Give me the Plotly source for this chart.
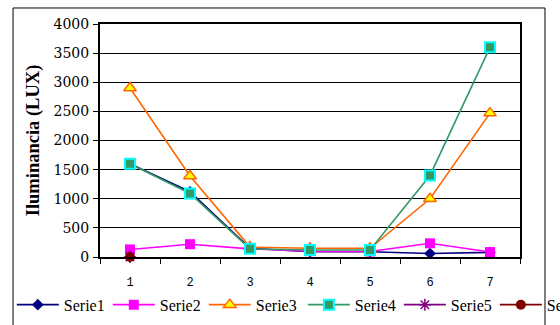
import plotly.graph_objects as go

# Measurement points along the x axis
points = [1, 2, 3, 4, 5, 6, 7]
point_boundaries = [0.5, 1.5, 2.5, 3.5, 4.5, 5.5, 6.5, 7.5]

# Illuminance readings (lux) per series
serie1 = [1600, 1120, 150, 90, 90, 60, 80]
serie2 = [130, 220, 140, 100, 95, 235, 85]
serie3 = [2900, 1390, 170, 150, 150, 1000, 2470]
serie4 = [1600, 1090, 140, 120, 120, 1400, 3600]
serie5 = [0, None, None, None, None, None, None]
serie6 = [0, None, None, None, None, None, None]

y_ticks = [0, 500, 1000, 1500, 2000, 2500, 3000, 3500, 4000]

SERIF = "Liberation Serif"
MONO = "Liberation Mono"

fig = go.Figure()

styles = [
    ("Serie1", serie1, "#000080", dict(symbol="diamond", size=9, color="#000080"), "legend"),
    ("Serie2", serie2, "#FF00FF", dict(symbol="square", size=10, color="#FF00FF"), "legend"),
    ("Serie3", serie3, "#FF6600", dict(symbol="triangle-up", size=11, color="#FFFF00",
                                       line=dict(color="#FF6600", width=1.5)), "legend"),
    ("Serie4", serie4, "#339966", dict(symbol="square", size=10, color="#339966",
                                       line=dict(color="#00FFFF", width=2)), "legend2"),
    ("Serie5", serie5, "#800080", dict(symbol="asterisk-open", size=10,
                                       line=dict(color="#800080", width=1.5)), "legend2"),
    ("Serie6", serie6, "#800000", dict(symbol="circle", size=10, color="#800000"), "legend2"),
]

for name, vals, color, marker, leg in styles:
    fig.add_trace(go.Scatter(
        x=points, y=vals, name=name, mode="lines+markers",
        line=dict(color=color, width=1.6), marker=marker, legend=leg,
        cliponaxis=False,
    ))

# Outer chart frame
fig.add_shape(type="rect", xref="paper", yref="paper",
              x0=-0.207, x1=1.0595, y0=-0.5, y1=1.0687,
              line=dict(color="black", width=1), fillcolor="rgba(0,0,0,0)",
              layer="below")

legend_common = dict(
    orientation="h", xanchor="left", y=-0.205, yanchor="middle",
    font=dict(family=SERIF, size=16, color="black"),
    entrywidth=39, entrywidthmode="pixels", itemwidth=42,
    bgcolor="rgba(0,0,0,0)",
)

fig.update_layout(
    width=560, height=325,
    margin=dict(l=100, r=40, t=24, b=68, autoexpand=False),
    paper_bgcolor="white", plot_bgcolor="white",
    font=dict(family=SERIF, color="black"),
    showlegend=True,
    legend=dict(x=-0.21, **legend_common),
    legend2=dict(x=0.483, **legend_common),
    xaxis=dict(
        range=[0.5, 7.5], tickvals=points,
        showline=True, linecolor="black", linewidth=2, mirror=True,
        # labels sit well below the axis; the visible tick marks fall between points
        ticks="outside", ticklen=13, tickcolor="rgba(0,0,0,0)",
        tickfont=dict(family=MONO, size=12, color="black"),
        minor=dict(tickvals=point_boundaries, ticks="outside", ticklen=5,
                   tickcolor="black", showgrid=False),
        showgrid=False, zeroline=False,
    ),
    yaxis=dict(
        range=[0, 4000], tickvals=y_ticks,
        showline=True, linecolor="black", linewidth=2, mirror=True,
        ticks="outside", ticklen=5, tickcolor="black",
        showgrid=True, gridcolor="black", gridwidth=1,
        tickfont=dict(family="DejaVu Serif", size=14, color="black"),
        ticklabelstandoff=1,
        title=dict(text="<b>Iluminancia (LUX)</b>", standoff=9,
                   font=dict(family=SERIF, size=18.5, color="black")),
        zeroline=False,
    ),
)

fig.write_html("out.html")
